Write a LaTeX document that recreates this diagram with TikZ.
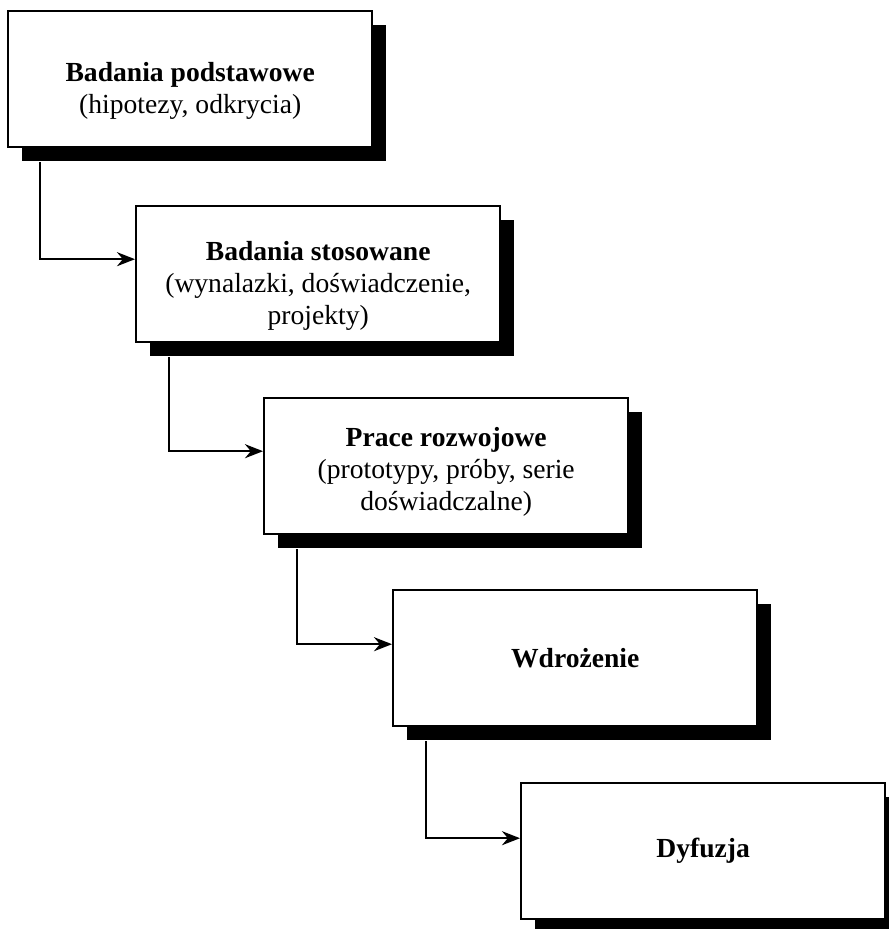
\documentclass[tikz,border=0pt]{standalone}
\usepackage{fontspec}
\setmainfont{Liberation Serif}
\usetikzlibrary{shadows}
\usetikzlibrary{arrows.meta}
\newcommand{\toppad}[1]{\rule{0pt}{#1}}
\tikzset{
	stagebox/.style = {
		rectangle,
		align=center,
		draw=black,
		fill=white,
		line width=1.2pt,
		anchor=north west,
		minimum width=182pt,
		minimum height=68pt,
		inner sep=2pt,
		font=\fontsize{13.8}{16}\selectfont,
		drop shadow={shadow xshift=7pt, shadow yshift=-7pt, fill=black, opacity=1}
	},
	flow/.style = {
		-{Stealth[length=9pt,width=7pt]},
		line width=1.1pt
	},
}

\begin{document}
\begin{tikzpicture}
\useasboundingbox (0,0) rectangle (444pt,-464.5pt);
\node [stagebox] (b1) at (3.5pt,-5pt)
	{\toppad{21.5pt}\textbf{Badania podstawowe}\\(hipotezy, odkrycia)};
\node [stagebox] (b2) at ([shift={(64pt,-97.5pt)}]b1.north west)
	{\toppad{21.5pt}\textbf{Badania stosowane}\\(wynalazki, doświadczenie,\\projekty)};
\node [stagebox] (b3) at ([shift={(64pt,-96pt)}]b2.north west)
	{\toppad{15.5pt}\textbf{Prace rozwojowe}\\(prototypy, próby, serie\\doświadczalne)};
\node [stagebox] (b4) at ([shift={(64.5pt,-96pt)}]b3.north west)
	{\textbf{Wdrożenie}};
\node [stagebox] (b5) at ([shift={(64pt,-96.5pt)}]b4.north west)
	{\textbf{Dyfuzja}};
% connectors from shadow bottom to next box
\draw [flow] ([xshift=16.5pt,yshift=-7pt]b1.south west) |- ([yshift=7.5pt]b2.west);
\draw [flow] ([xshift=17pt,yshift=-7pt]b2.south west) |- ([yshift=7.5pt]b3.west);
\draw [flow] ([xshift=17pt,yshift=-7pt]b3.south west) |- ([yshift=7pt]b4.west);
\draw [flow] ([xshift=17pt,yshift=-7pt]b4.south west) |- ([yshift=6.5pt]b5.west);
\end{tikzpicture}
\end{document}
